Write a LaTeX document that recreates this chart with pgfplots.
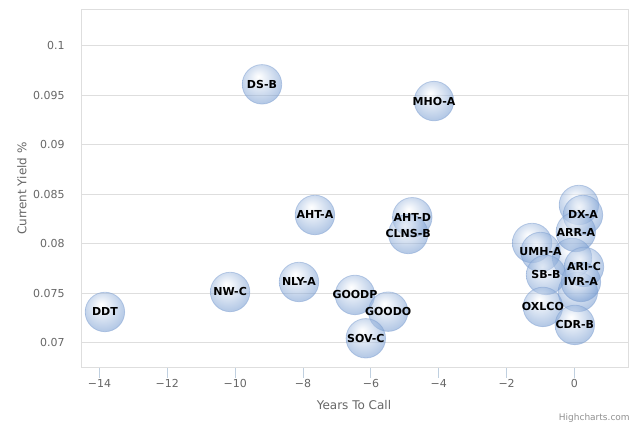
\documentclass[border=0pt]{standalone}
\usepackage{pgfplots}
\pgfplotsset{compat=1.18}
\usepackage{fontspec}
\setmainfont{DejaVu Sans}
\definecolor{bubA}{RGB}{62,115,190}
\definecolor{bubline}{RGB}{130,162,210}
\definecolor{tickgray}{RGB}{102,102,102}
\definecolor{gridgray}{RGB}{222,222,222}
\definecolor{axisgray}{RGB}{192,208,224}
\definecolor{creditgray}{RGB}{144,144,144}
\pgfdeclareradialshading{bubble}{\pgfpoint{-5bp}{10bp}}{color(0bp)=(white); color(5bp)=(white!88!bubA); color(36bp)=(bubA); color(50bp)=(bubA)}
\pgfdeclareplotmark{bubble}{%
  \pgfpathcircle{\pgfpointorigin}{\pgfplotmarksize}%
  \pgfshadepath{bubble}{0}%
  \pgfusepath{stroke}%
}
\pgfplotstableread{
x y label
-13.84 0.07310 DDT
-10.15 0.07512 NW-C
-9.21 0.09610 DS-B
-8.12 0.07613 NLY-A
-7.65 0.08290 AHT-A
-6.47 0.07482 GOODP
-5.49 0.07313 GOODO
-6.15 0.07044 SOV-C
-4.78 0.08267 AHT-D
-4.90 0.08098 CLNS-B
-4.14 0.09441 MHO-A
-1.00 0.07916 UMH-A
-0.84 0.07684 SB-B
-0.93 0.07361 OXLCO
0.01 0.07179 CDR-B
0.25 0.08290 DX-A
0.04 0.08118 ARR-A
0.28 0.07765 ARI-C
0.19 0.07613 IVR-A
}\labeled
\pgfplotstableread{
x y
0.13 0.08391
-1.25 0.08007
0.10 0.07512
-0.07 0.07856
}\extras
\begin{document}
\begin{tikzpicture}
\useasboundingbox (0,0) rectangle (480pt,320.25pt);
\begin{axis}[
  at={(61.125pt,44.475pt)}, anchor=south west,
  scale only axis, width=410.6pt, height=268.65pt,
  xmin=-14.53, xmax=1.606, ymin=0.06747, ymax=0.10366,
  clip=false,
  xtick={-14,-12,-10,-8,-6,-4,-2,0},
  xticklabels={−14,−12,−10,−8,−6,−4,−2,0},
  ytick={0.07,0.075,0.08,0.085,0.09,0.095,0.1},
  yticklabels={0.07,0.075,0.08,0.085,0.09,0.095,0.1},
  ymajorgrids, grid style={draw=gridgray, line width=0.75pt},
  axis line style={draw=gridgray, line width=0.75pt},
  tick align=outside, major tick length=7.5pt,
  xtick pos=bottom, ytick pos=left,
  xtick style={draw=axisgray, line width=0.75pt},
  ytick style={draw=none},
  tick label style={font=\fontsize{8.25}{10}\selectfont, text=tickgray},
  yticklabel style={anchor=east, inner sep=0pt, xshift=-4.9pt},
  xticklabel style={anchor=north, inner sep=0pt, yshift=-1pt},
  xlabel={Years To Call}, ylabel={Current Yield \%},
  every axis x label/.style={at={(axis description cs:0.4977,-0.1041)}, anchor=center, font=\fontsize{9}{11}\selectfont, text=tickgray},
  every axis y label/.style={at={(axis description cs:-0.1087,0.5)}, rotate=90, anchor=center, font=\fontsize{9}{11}\selectfont, text=tickgray},
]
\addplot[only marks, mark=bubble, mark size=14.8pt,
  mark options={draw=bubline, fill opacity=0.5, draw opacity=0.5, line width=0.6pt}]
  table[x=x, y=y] {\extras};
\addplot[only marks, mark=bubble, mark size=14.8pt,
  mark options={draw=bubline, fill opacity=0.5, draw opacity=0.5, line width=0.6pt}]
  table[x=x, y=y] {\labeled};
\addplot[draw=none, mark=none,
  point meta=explicit symbolic,
  nodes near coords,
  every node near coord/.append style={anchor=center, font=\bfseries\fontsize{8.25}{9}\selectfont, text=black, inner sep=0pt, opacity=1, text opacity=1, fill opacity=1}]
  table[x=x, y=y, meta=label] {\labeled};
\end{axis}
\node[anchor=east, font=\fontsize{6.75}{8}\selectfont, text=creditgray, inner sep=0pt] at (472.5pt,6.75pt) {Highcharts.com};
\end{tikzpicture}
\end{document}
